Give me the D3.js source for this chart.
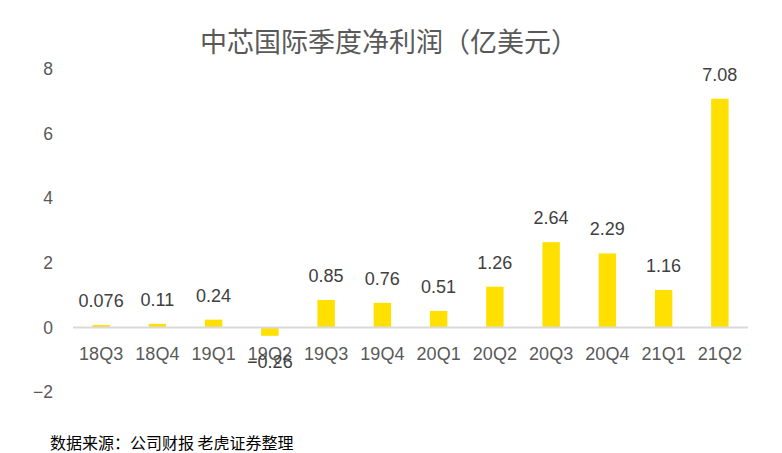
<!DOCTYPE html>
<html>
<head>
<meta charset="utf-8">
<script src="https://cdn.jsdelivr.net/npm/d3@7"></script>
<style>
  body { margin: 0; background: #fff; }
  text { font-family: "Liberation Sans", "Noto Sans CJK SC", sans-serif; }
  .cjk { font-family: "Noto Sans CJK SC", sans-serif; }
</style>
</head>
<body>
<div id="chart"></div>
<script>
// 中芯国际季度净利润 (亿美元)
const quarters = ['18Q3','18Q4','19Q1','19Q2','19Q3','19Q4','20Q1','20Q2','20Q3','20Q4','21Q1','21Q2'];
const profit = [0.076, 0.11, 0.24, -0.26, 0.85, 0.76, 0.51, 1.26, 2.64, 2.29, 1.16, 7.08];
const profitLabels = ['0.076','0.11','0.24','\u22120.26','0.85','0.76','0.51','1.26','2.64','2.29','1.16','7.08'];
const yTicks = [-2, 0, 2, 4, 6, 8];

const W = 782, H = 453;
const margin = { top: 69, right: 34, bottom: 61, left: 73 };

let svg = d3.select('#chart').append('svg')
  .attr('width', W)
  .attr('height', H);

let x = d3.scaleBand()
  .domain(quarters)
  .range([margin.left, W - margin.right])
  .paddingInner(0.69)
  .paddingOuter(0.345);

let y = d3.scaleLinear()
  .domain([-2, 8])
  .range([H - margin.bottom, margin.top]);

// title
svg.append('text')
  .attr('class', 'cjk')
  .attr('x', 389)
  .attr('y', 52)
  .attr('text-anchor', 'middle')
  .attr('font-size', 27)
  .attr('fill', '#595959')
  .text('中芯国际季度净利润（亿美元）');

// y axis, labels only
let yAxis = d3.axisLeft(y)
  .tickValues(yTicks)
  .tickSize(0)
  .tickPadding(0)
  .tickFormat(d => d < 0 ? '\u2212' + Math.abs(d) : d);

let yg = svg.append('g')
  .attr('transform', 'translate(53,0)')
  .call(yAxis);
yg.select('.domain').remove();
yg.selectAll('text')
  .attr('font-size', 17.5)
  .attr('fill', '#595959')
  .attr('font-family', '"Liberation Sans", sans-serif');

// bars
svg.selectAll('rect.bar')
  .data(quarters)
  .enter()
  .append('rect')
  .attr('class', 'bar')
  .attr('x', d => x(d))
  .attr('width', x.bandwidth())
  .attr('y', (d, i) => y(Math.max(0, profit[i])))
  .attr('height', (d, i) => Math.abs(y(profit[i]) - y(0)))
  .attr('fill', '#FFE000');

// zero line
svg.append('line')
  .attr('x1', margin.left)
  .attr('x2', W - margin.right)
  .attr('y1', y(0))
  .attr('y2', y(0))
  .attr('stroke', '#d9d9d9')
  .attr('stroke-width', 2);

// category labels
let xAxis = d3.axisBottom(x).tickSize(0).tickPadding(0);
let xg = svg.append('g')
  .attr('transform', 'translate(0,' + (y(0) + 20) + ')')
  .call(xAxis);
xg.select('.domain').remove();
xg.selectAll('text')
  .attr('font-size', 18)
  .attr('fill', '#595959')
  .attr('font-family', '"Liberation Sans", sans-serif');

// value labels
svg.selectAll('text.val')
  .data(quarters)
  .enter()
  .append('text')
  .attr('class', 'val')
  .attr('x', d => x(d) + x.bandwidth() / 2)
  .attr('y', (d, i) => profit[i] >= 0 ? y(profit[i]) - 18 : y(profit[i]) + 32)
  .attr('text-anchor', 'middle')
  .attr('font-size', 18)
  .attr('fill', '#404040')
  .text((d, i) => profitLabels[i]);

// source
svg.append('text')
  .attr('class', 'cjk')
  .attr('x', 50)
  .attr('y', 449)
  .attr('font-size', 16)
  .attr('font-weight', 400)
  .attr('fill', '#000')
  .text('数据来源：公司财报 老虎证券整理');
</script>
</body>
</html>
